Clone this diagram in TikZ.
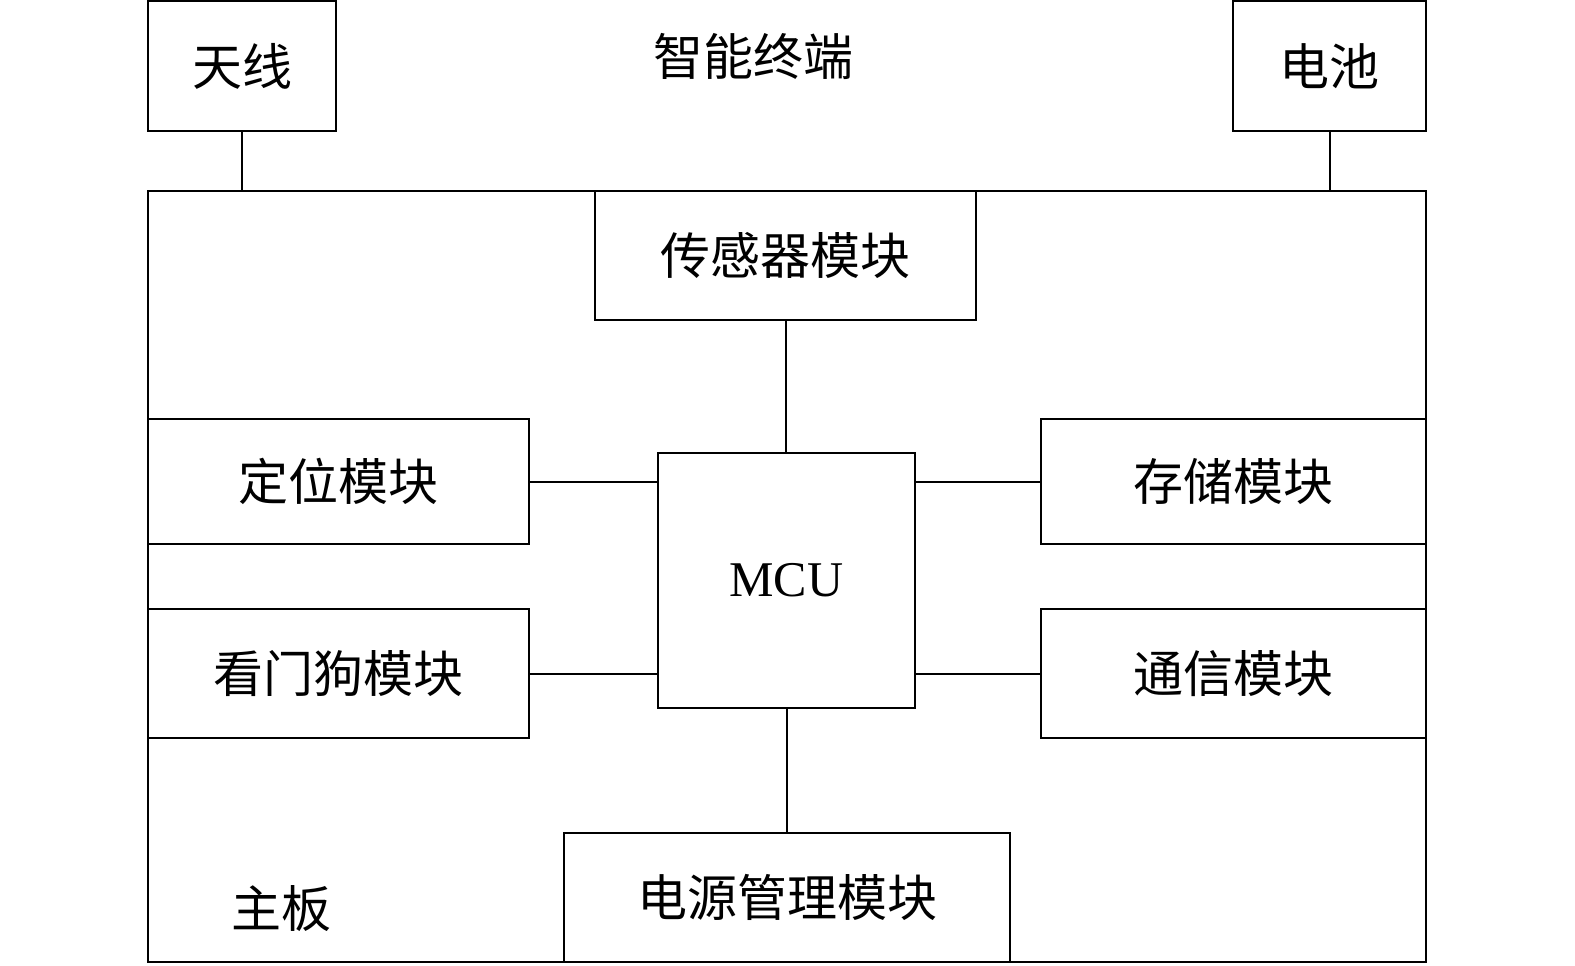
\documentclass[tikz,border=0pt]{standalone}
\usepackage{fontspec}
\setmainfont{Liberation Serif}
\newfontfamily\cjk{Noto Sans CJK SC}
\usepackage{tikz}

\begin{document}
\begin{tikzpicture}[x=0.5pt,y=-0.5pt]
			\tikzstyle{box} = [draw, line width=1pt, inner sep=0pt, font=\cjk\fontsize{25}{30}\selectfont]
			\tikzstyle{label} = [inner sep=0pt, font=\cjk\fontsize{25}{30}\selectfont]
			\tikzstyle{wire} = [line width=1pt]
			\useasboundingbox (0,0) rectangle (1575,965);
			% outer parts
			\node[box, minimum width=94pt, minimum height=65pt] (ant) at (242,66) {天线};
			\node[box, minimum width=96.5pt, minimum height=65pt] (bat) at (1329.5,66) {电池};
			\node[label] (title) at (753,56) {智能终端};
			\node[draw, line width=1pt, minimum width=639pt, minimum height=385.5pt, inner sep=0pt] (board) at (787,576.5) {};
			\node[label] (name) at (281,909) {主板};
			% modules
			\node[box, minimum width=190.5pt, minimum height=64.5pt] (sensor) at (785.5,255.5) {传感器模块};
			\node[box, minimum width=128.5pt, minimum height=127.5pt, font=\fontsize{25}{30}\selectfont] (mcu) at (786.5,580.5) {MCU};
			\node[box, minimum width=190.5pt, minimum height=62.5pt] (gps) at (338.5,481.5) {定位模块};
			\node[box, minimum width=190.5pt, minimum height=64.5pt] (dog) at (338.5,673.5) {看门狗模块};
			\node[box, minimum width=192.5pt, minimum height=62.5pt] (mem) at (1233.5,481.5) {存储模块};
			\node[box, minimum width=192.5pt, minimum height=64.5pt] (com) at (1233.5,673.5) {通信模块};
			\node[box, minimum width=223pt, minimum height=64.5pt] (power) at (787,897.5) {电源管理模块};
			% connections
			\draw[wire] (ant.south) -- (ant.south |- board.north);
			\draw[wire] (bat.south) -- (bat.south |- board.north);
			\draw[wire] (sensor.south) -- (sensor.south |- mcu.north);
			\draw[wire] (power.north) -- (power.north |- mcu.south);
			\draw[wire] (gps.east) -- (gps.east -| mcu.west);
			\draw[wire] (dog.east) -- (dog.east -| mcu.west);
			\draw[wire] (mem.west) -- (mem.west -| mcu.east);
			\draw[wire] (com.west) -- (com.west -| mcu.east);
		\end{tikzpicture}
\end{document}
